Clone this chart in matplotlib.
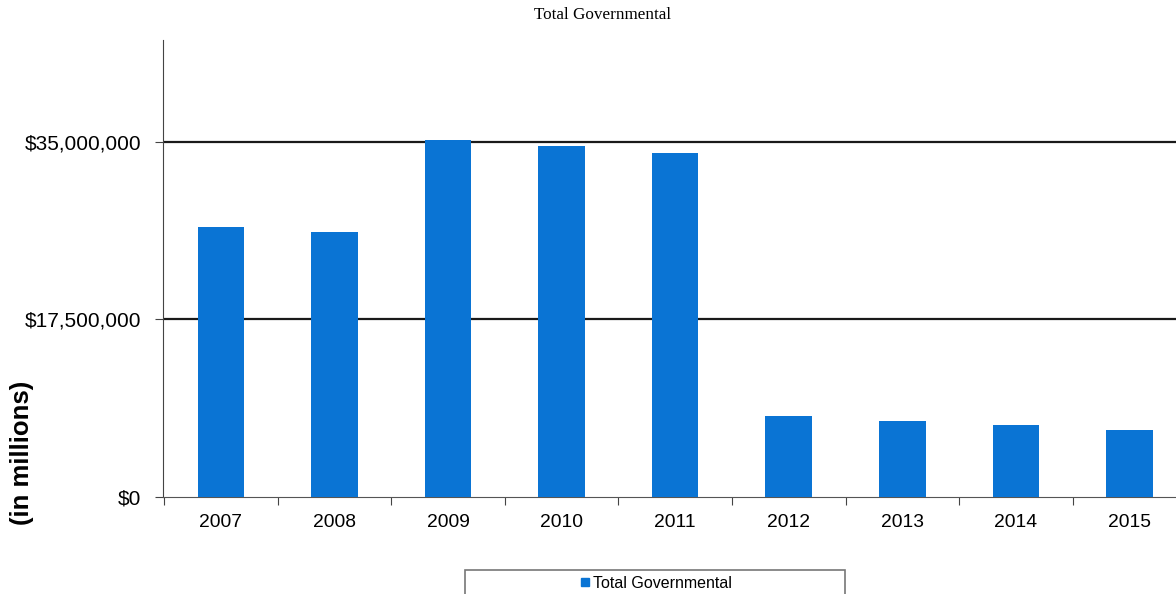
import matplotlib.pyplot as plt
from matplotlib.lines import Line2D
from matplotlib.patches import Rectangle
from matplotlib.ticker import FuncFormatter, FixedLocator, NullFormatter

years = ["2007", "2008", "2009", "2010", "2011", "2012", "2013", "2014", "2015"]
totals = [26.6e6, 26.1e6, 35.2e6, 34.6e6, 33.9e6, 8.0e6, 7.5e6, 7.1e6, 6.6e6]
yticks = [0, 17.5e6, 35e6]

blue = "#0a74d4"
plt.rcParams["font.family"] = ["Liberation Sans", "DejaVu Sans"]

W, H = 1176, 594
fig = plt.figure(figsize=(W / 100, H / 100), dpi=100)
ax = fig.add_axes([163 / W, 1 - 497 / H, 1 - 163 / W, (497 - 40) / H])

x = list(range(len(years)))
ax.bar(x, totals, width=0.41, color=blue, zorder=3)

ax.set_xlim(-0.51, 8.41)
ax.set_ylim(0, 45.05e6)

ax.set_yticks(yticks)
ax.yaxis.set_major_formatter(FuncFormatter(lambda v, p: "${:,.0f}".format(v)))
ax.tick_params(axis="y", labelsize=15.0, length=6, color="#444444", pad=9.5)
for yv in yticks[1:]:
    ax.axhline(yv, color="#1a1a1a", lw=1.6, zorder=2)

ax.xaxis.set_major_locator(FixedLocator([i + 0.5 for i in range(-1, len(years))]))
ax.xaxis.set_major_formatter(NullFormatter())
ax.xaxis.set_minor_locator(FixedLocator(x))
ax.set_xticklabels(years, minor=True)
ax.tick_params(axis="x", which="major", length=6, color="#444444")
ax.tick_params(axis="x", which="minor", length=0, labelsize=13.9, pad=12)

for s in ["top", "right"]:
    ax.spines[s].set_visible(False)
ax.spines["left"].set_color("#444444")
ax.spines["bottom"].set_color("#555555")

fig.text(22 / W, 1 - 453 / H, "(in millions)", rotation=90, ha="center",
         va="center", fontsize=18.5, fontweight="bold")

fig.text(603 / W, 1 - 15 / H, "Total Governmental", ha="center", va="center",
         fontsize=12.3, family="Liberation Serif")

# legend box, cut off at the bottom edge
fig.patches.append(Rectangle((465 / W, -0.02), 380 / W, (594 - 570) / H + 0.02,
                             transform=fig.transFigure, fill=False,
                             edgecolor="#777777", lw=1.2))
handle = Line2D([], [], marker="s", color=blue, linestyle="none", markersize=6)
fig.legend([handle], ["Total Governmental"], loc="center",
           bbox_to_anchor=(655 / W, 1 - 583 / H), frameon=False,
           fontsize=11.5, handletextpad=0.1, handlelength=0.8, borderpad=0)

fig.savefig("out.png", dpi=100)
